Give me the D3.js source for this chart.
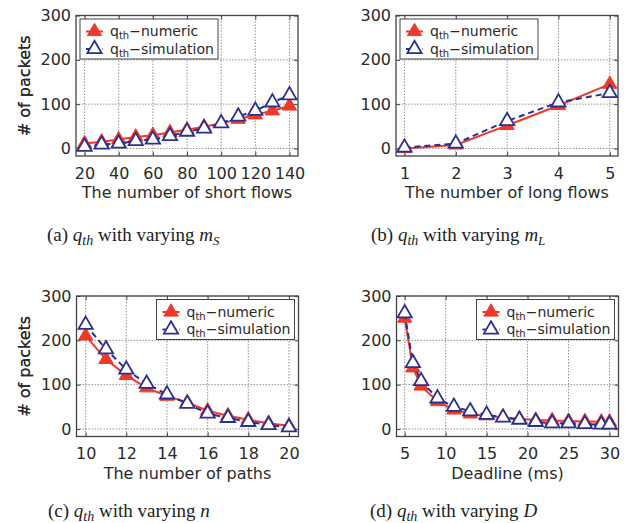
<!DOCTYPE html>
<html>
<head>
<meta charset="utf-8">
<script src="https://cdn.jsdelivr.net/npm/d3@7"></script>
<style>
  body { margin: 0; background: #fff; }
  text { font-family: "DejaVu Sans", sans-serif; fill: #2a2a2a; }
  text.caption { font-family: "Liberation Serif", serif; fill: #222; }
</style>
</head>
<body>
<svg width="638" height="523"></svg>
<script>
// (a) varying number of short flows
const shortFlows = [20, 30, 40, 50, 60, 70, 80, 90, 100, 110, 120, 130, 140];
const shortNumeric = [11, 15, 20, 26, 30, 36, 42, 49, 57, 66, 76, 85, 96];
const shortSim = [4, 9, 11, 17, 20, 28, 38, 45, 57, 72, 85, 104, 120];
const shortTicks = [20, 40, 60, 80, 100, 120, 140];

// (b) varying number of long flows
const longFlows = [1, 2, 3, 4, 5];
const longNumeric = [0, 8, 52, 97, 145];
const longSim = [2, 11, 62, 104, 125];
const longTicks = [1, 2, 3, 4, 5];

// (c) varying number of paths
const paths = [10, 11, 12, 13, 14, 15, 16, 17, 18, 19, 20];
const pathsNumeric = [210, 157, 121, 93, 74, 60, 41, 30, 21, 13, 7];
const pathsSim = [235, 180, 134, 102, 78, 57, 35, 25, 16, 9, 4];
const pathsTicks = [10, 12, 14, 16, 18, 20];

// (d) varying deadline
const deadlines = [5, 6, 7, 9, 11, 13, 15, 17, 19, 21, 23, 25, 27, 29, 30];
const deadlineNumeric = [250, 138, 97, 62, 43, 34, 30, 26, 23, 20, 19, 18, 17, 16, 16];
const deadlineSim = [261, 149, 108, 69, 50, 40, 32, 26, 21, 16, 13, 13, 11, 10, 10];
const deadlineTicks = [5, 10, 15, 20, 25, 30];

const yTicks = [0, 100, 200, 300];

const svg = d3.select("svg");
const W = 222, H = 140.5;
const red = "#f0392b", blue = "#2b2f8e";
const tri = d3.symbol(d3.symbolTriangle, 88);

function panel(o) {
  const g = svg.append("g").attr("transform", `translate(${o.left},${o.top})`);
  const x = d3.scaleLinear().domain(o.xDomain).range([0, W]);
  const y = d3.scaleLinear().domain([-17, 300]).range([H, 0]);

  // grid
  g.append("g").selectAll("line").data(o.xTicks).join("line")
    .attr("x1", d => x(d)).attr("x2", d => x(d)).attr("y1", 0).attr("y2", H)
    .attr("stroke", "#777").attr("stroke-width", 0.8).attr("stroke-dasharray", "1.5,1.5");
  g.append("g").selectAll("line").data(yTicks).join("line")
    .attr("x1", 0).attr("x2", W).attr("y1", d => y(d)).attr("y2", d => y(d))
    .attr("stroke", "#777").attr("stroke-width", 0.8).attr("stroke-dasharray", "1.5,1.5");

  // axes
  const xa = g.append("g").attr("transform", `translate(0,${H})`)
    .call(d3.axisBottom(x).tickValues(o.xTicks).tickFormat(d3.format("d")).tickSize(-4).tickPadding(11.6));
  const ya = g.append("g")
    .call(d3.axisLeft(y).tickValues(yTicks).tickSize(-4).tickPadding(5));
  g.append("g").call(d3.axisTop(x).tickValues(o.xTicks).tickSize(-4).tickFormat(""));
  g.append("g").attr("transform", `translate(${W},0)`)
    .call(d3.axisRight(y).tickValues(yTicks).tickSize(-4).tickFormat(""));
  g.selectAll(".domain").remove();
  g.selectAll(".tick line").attr("stroke", "#444");
  [xa, ya].forEach(a => a.selectAll("text")
    .style("font-family", "DejaVu Sans").style("font-size", "16px").attr("fill", "#2a2a2a"));

  g.append("rect").attr("width", W).attr("height", H)
    .attr("fill", "none").attr("stroke", "#444").attr("stroke-width", 1.3);

  // titles
  g.append("text").attr("x", W / 2).attr("y", H + 42).attr("text-anchor", "middle")
    .style("font-size", "16px").text(o.xTitle);
  g.append("text").attr("transform", `translate(${30 - o.left},${H / 2}) rotate(-90)`)
    .attr("text-anchor", "middle").style("font-size", "16px").text("# of packets");

  // series
  const line = d3.line().x(d => x(d[0])).y(d => y(d[1]));
  const num = o.x.map((v, i) => [v, o.numeric[i]]);
  const sim = o.x.map((v, i) => [v, o.sim[i]]);
  g.append("path").datum(num).attr("d", line)
    .attr("fill", "none").attr("stroke", red).attr("stroke-width", 2);
  g.append("g").selectAll("path").data(num).join("path")
    .attr("transform", d => `translate(${x(d[0])},${y(d[1])})`)
    .attr("d", tri).attr("fill", red).attr("stroke", red).attr("stroke-width", 1);
  g.append("path").datum(sim).attr("d", line)
    .attr("fill", "none").attr("stroke", blue).attr("stroke-width", 2).attr("stroke-dasharray", "6,4");
  g.append("g").selectAll("path").data(sim).join("path")
    .attr("transform", d => `translate(${x(d[0])},${y(d[1])})`)
    .attr("d", tri).attr("fill", "#fff").attr("stroke", blue).attr("stroke-width", 1.8);

  // legend
  const lw = 138, lh = 40;
  const lx = o.legendRight ? W - lw - 4 : 4, ly = 3.5;
  const lg = g.append("g").attr("transform", `translate(${lx},${ly})`);
  lg.append("rect").attr("width", lw).attr("height", lh)
    .attr("fill", "#fff").attr("stroke", "#444").attr("stroke-width", 1);
  const items = [
    { label: "numeric", color: red, dash: null, fill: red, sw: 1 },
    { label: "simulation", color: blue, dash: "3,2.5", fill: "#fff", sw: 1.8 }
  ];
  items.forEach((it, i) => {
    const cy = 12.5 + i * 17.5;
    lg.append("line").attr("x1", 6).attr("x2", 23).attr("y1", cy).attr("y2", cy)
      .attr("stroke", it.color).attr("stroke-width", 2).attr("stroke-dasharray", it.dash);
    lg.append("path").attr("transform", `translate(14.5,${cy})`).attr("d", tri)
      .attr("fill", it.fill).attr("stroke", it.color).attr("stroke-width", it.sw);
    const t = lg.append("text").attr("x", 30).attr("y", cy + 4.5).style("font-size", "14px");
    t.append("tspan").text("q");
    t.append("tspan").attr("dy", 3).style("font-size", "10px").text("th");
    t.append("tspan").attr("dy", -3).text("\u2212" + it.label);
  });

  // caption
  const c = svg.append("text").attr("class", "caption")
    .attr("x", o.capX).attr("y", o.capY).style("font-size", "19px");
  c.append("tspan").text(`(${o.tag}) `);
  c.append("tspan").style("font-style", "italic").text("q");
  c.append("tspan").attr("dy", 4).style("font-style", "italic").style("font-size", "14px").text("th");
  c.append("tspan").attr("dy", -4).text(" with varying ");
  c.append("tspan").style("font-style", "italic").text(o.capVar);
  if (o.capSub) {
    c.append("tspan").attr("dy", 4).style("font-style", "italic").style("font-size", "13px").text(o.capSub);
  }
}

panel({ tag: "a", left: 76, top: 15.5, xDomain: [15, 145], xTicks: shortTicks,
  x: shortFlows, numeric: shortNumeric, sim: shortSim, xTitle: "The number of short flows",
  legendRight: false, capX: 47, capY: 241, capVar: "m", capSub: "S" });
panel({ tag: "b", left: 396, top: 15.5, xDomain: [0.835, 5.16], xTicks: longTicks,
  x: longFlows, numeric: longNumeric, sim: longSim, xTitle: "The number of long flows",
  legendRight: false, capX: 371, capY: 241, capVar: "m", capSub: "L" });
panel({ tag: "c", left: 76.5, top: 296, xDomain: [9.55, 20.47], xTicks: pathsTicks,
  x: paths, numeric: pathsNumeric, sim: pathsSim, xTitle: "The number of paths",
  legendRight: true, capX: 48, capY: 517, capVar: "n" });
panel({ tag: "d", left: 396.5, top: 296, xDomain: [4.0, 31.1], xTicks: deadlineTicks,
  x: deadlines, numeric: deadlineNumeric, sim: deadlineSim, xTitle: "Deadline (ms)",
  legendRight: true, capX: 370, capY: 517, capVar: "D" });
</script>
</body>
</html>
